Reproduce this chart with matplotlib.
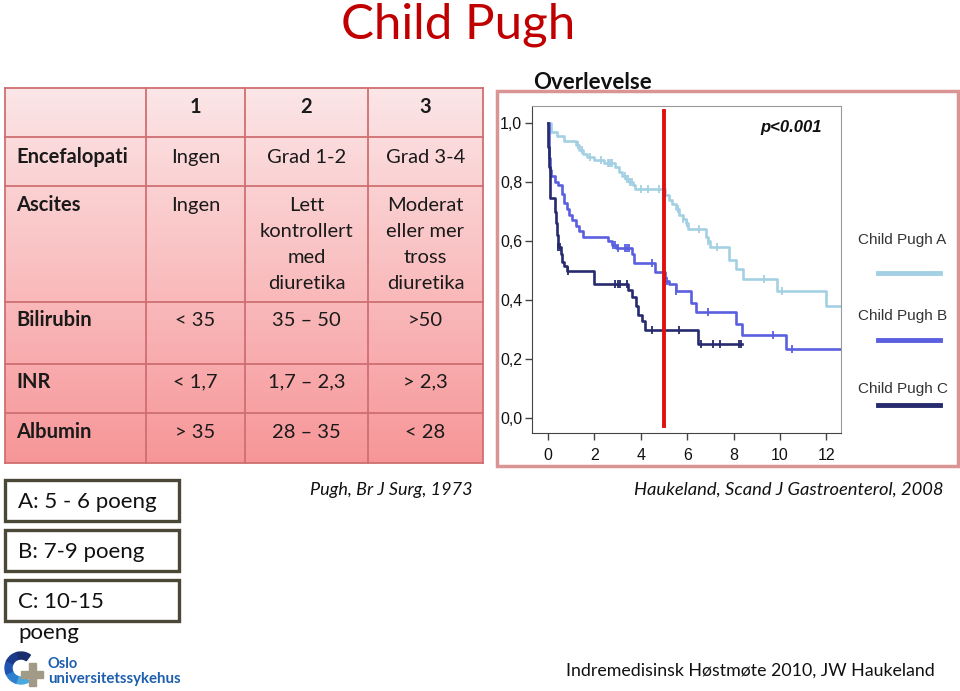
import numpy as np
import matplotlib
matplotlib.use("Agg")
import matplotlib.pyplot as plt
from matplotlib.patches import Rectangle, Wedge
from matplotlib.lines import Line2D

# ---- table data ----
COL_HEADS = ["1", "2", "3"]
ROW_LABELS = ["Encefalopati", "Ascites", "Bilirubin", "INR", "Albumin"]
CELLS = [
    ["Ingen", "Grad 1-2", "Grad 3-4"],
    ["Ingen", "Lett\nkontrollert\nmed\ndiuretika", "Moderat\neller mer\ntross\ndiuretika"],
    ["< 35", "35 \u2013 50", ">50"],
    ["< 1,7", "1,7 \u2013 2,3", "> 2,3"],
    ["> 35", "28 \u2013 35", "< 28"],
]
CLASSES = ["A: 5 - 6 poeng", "B: 7-9 poeng", "C: 10-15\npoeng"]

# ---- Kaplan-Meier curves (years, survival) ----
A_t = [0, 0.15, 0.4, 0.7, 1.2, 1.35, 1.5, 1.7, 2.0, 2.4, 2.9, 3.05, 3.2, 3.35, 3.5, 3.65, 3.75,
       5.05, 5.2, 5.35, 5.5, 5.65, 5.8, 5.95, 6.05, 6.8, 6.9, 6.97, 7.8, 8.1, 8.4, 9.85, 12.0, 12.63]
A_s = [1.0, 0.97, 0.955, 0.94, 0.925, 0.91, 0.895, 0.885, 0.875, 0.865, 0.85, 0.835, 0.82, 0.81, 0.80, 0.79, 0.775,
       0.755, 0.74, 0.725, 0.71, 0.69, 0.675, 0.66, 0.64, 0.615, 0.60, 0.58, 0.535, 0.505, 0.47, 0.43, 0.38, 0.38]
A_cens = [1.3, 1.45, 1.8, 2.3, 2.6, 2.65, 2.7, 2.75, 3.3, 3.4, 3.45, 3.55, 3.6, 4.0, 4.3, 4.8,
          5.6, 5.8, 6.0, 6.5, 6.9, 7.3, 9.3, 10.1]

B_t = [0, 0.03, 0.08, 0.15, 0.3, 0.45, 0.6, 0.7, 0.8, 0.9, 1.05, 1.2, 1.35, 1.5, 2.6, 2.75, 2.95,
       3.6, 3.7, 4.6, 5.05, 5.2, 5.5, 6.15, 6.4, 8.1, 8.35, 10.25, 12.63]
B_s = [1.0, 0.88, 0.84, 0.82, 0.80, 0.79, 0.76, 0.73, 0.71, 0.69, 0.67, 0.65, 0.635, 0.615, 0.60, 0.585, 0.575,
       0.555, 0.525, 0.495, 0.465, 0.455, 0.43, 0.39, 0.36, 0.32, 0.28, 0.235, 0.235]
B_cens = [2.8, 2.9, 3.0, 3.3, 3.4, 3.5, 4.5, 5.15, 5.5, 6.9, 9.7, 10.5]

C_t = [0, 0.02, 0.06, 0.1, 0.28, 0.35, 0.4, 0.45, 0.55, 0.6, 0.7, 0.8, 1.97,
       3.45, 3.6, 3.8, 3.9, 4.05, 4.2, 6.45, 8.35]
C_s = [1.0, 0.92, 0.85, 0.745, 0.70, 0.66, 0.62, 0.58, 0.555, 0.53, 0.515, 0.50, 0.455,
       0.435, 0.41, 0.38, 0.35, 0.33, 0.30, 0.25, 0.25]
C_cens = [0.45, 0.5, 0.85, 2.9, 3.0, 3.1, 3.4, 4.5, 5.0, 5.65, 6.6, 7.1, 7.4, 8.25, 8.3]

GROUPS = ["Child Pugh A", "Child Pugh B", "Child Pugh C"]
COLORS = ["#a3d0e2", "#5a5fe0", "#262a6e"]
CUT_YEAR = 5

FONT = "Lato"
SPSS_FONT = "Liberation Sans"
W, H = 960, 691


def surv_at(t, s, x):
    i = np.searchsorted(t, x, side="right") - 1
    return np.asarray(s)[i]


fig = plt.figure(figsize=(W / 100, H / 100), dpi=100)
fig.patch.set_facecolor("white")
cv = fig.add_axes([0, 0, 1, 1])
cv.set_xlim(0, W); cv.set_ylim(H, 0); cv.axis("off")

# title
cv.text(458, 25, "Child Pugh", color="#c00000", fontsize=35.5, family=FONT,
        ha="center", va="center")

# table with pink gradient
xs = [5, 146, 245, 368, 483]
ys = [88, 137, 186, 302, 364, 413, 463]
top, bot = np.array([252, 230, 231]) / 255, np.array([247, 150, 152]) / 255
grad = np.linspace(0, 1, 200)[:, None, None] * (bot - top) + top
cv.imshow(grad, extent=[xs[0], xs[-1], ys[-1], ys[0]], aspect="auto", zorder=1)
for x in xs:
    cv.plot([x, x], [ys[0], ys[-1]], color="#cf6f72", lw=1.3, zorder=2)
for y in ys:
    cv.plot([xs[0], xs[-1]], [y, y], color="#cf6f72", lw=1.3, zorder=2)
cv.set_xlim(0, W); cv.set_ylim(H, 0)

txt = dict(family=FONT, fontsize=14.5, color="#1a1a1a", zorder=3)
for j, h in enumerate(COL_HEADS):
    cv.text((xs[j + 1] + xs[j + 2]) / 2, 107, h, ha="center", va="center", weight="bold", **txt)
row_y = [157, 205, 320, 382, 432]
line_gap = 26
for i, lab in enumerate(ROW_LABELS):
    cv.text(16, row_y[i], lab, ha="left", va="center", weight="bold", **txt)
    for j, c in enumerate(CELLS[i]):
        for k, part in enumerate(c.split("\n")):
            cv.text((xs[j + 1] + xs[j + 2]) / 2, row_y[i] + k * line_gap, part,
                    ha="center", va="center", **txt)

# class boxes
box_y = [480, 530, 580]
for k, c in enumerate(CLASSES):
    cv.add_patch(Rectangle((5, box_y[k]), 174, 41, fill=False, ec="#4b4736", lw=2.4, zorder=3))
    for m, part in enumerate(c.split("\n")):
        cv.text(18, box_y[k] + 22 + m * 31, part, family=FONT, fontsize=16, color="#111111",
                ha="left", va="center", zorder=3)

cv.text(310, 490, "Pugh, Br J Surg, 1973", family=FONT, style="italic", fontsize=13,
        color="#111111", ha="left", va="center")
cv.text(943, 490, "Haukeland, Scand J Gastroenterol, 2008", family=FONT, style="italic",
        fontsize=13.2, color="#111111", ha="right", va="center")
cv.text(935, 671, "Indremedisinsk H\u00f8stm\u00f8te 2010, JW Haukeland", family=FONT,
        fontsize=12.8, color="#111111", ha="right", va="center")

# logo
arc_cols = ["#4aa8e0", "#2f7fd0", "#1f55b0", "#1c3a8a", "#1b2d6e"]
for k, col in enumerate(arc_cols):
    a0 = 60 + k * 49
    cv.add_patch(Wedge((21, 668), 16, a0, a0 + 50, width=7, color=col, zorder=3))
cv.add_patch(Rectangle((28.5, 663), 7, 23, color="#a09a86", zorder=4))
cv.add_patch(Rectangle((21, 671), 22, 7, color="#a09a86", zorder=4))
cv.text(48, 664, "Oslo", family=FONT, weight="bold", fontsize=10.5, color="#1d5fae", va="center")
cv.text(48, 679, "universitetssykehus", family=FONT, weight="bold", fontsize=10.8,
        color="#1d5fae", va="center")

# survival panel frame and heading
cv.add_patch(Rectangle((497, 91), 461, 375, fill=False, ec="#d99494", lw=2.5, zorder=3))
cv.text(593, 82, "Overlevelse", family=FONT, weight="bold", fontsize=16, color="#111111",
        ha="center", va="center")

# legend (outside the plot, drawn on the canvas)
leg_y = [240, 316, 389]
line_y = [273, 340, 405]
for k, g in enumerate(GROUPS):
    cv.text(858, leg_y[k], g, family=SPSS_FONT, fontsize=11, color="#333333",
            ha="left", va="center")
    cv.add_line(Line2D([878, 940], [line_y[k]] * 2, color=COLORS[k], lw=3.5, zorder=3))

# KM axes
L, R, T, B = 532, 841, 106, 433
ax = fig.add_axes([L / W, (H - B) / H, (R - L) / W, (B - T) / H])
ax.set_facecolor("white")
ax.set_xlim(-0.69, 12.63)
ax.set_ylim(-0.051, 1.058)
for (t, s, cens), col in zip([(A_t, A_s, A_cens), (B_t, B_s, B_cens), (C_t, C_s, C_cens)], COLORS):
    ax.step(t, s, where="post", color=col, lw=1.9)
    ax.plot(cens, surv_at(t, s, cens), ls="none", marker="|", ms=6, mew=1.3, color=col)
ax.axvline(CUT_YEAR, ymin=0.02, ymax=0.985, color="#e01010", lw=2.8)
ax.text(11.8, 0.985, "p<0.001", family=SPSS_FONT, weight="bold", style="italic",
        fontsize=12, ha="right", va="center", color="#111111")

ax.set_xticks(range(0, 13, 2))
ax.set_yticks(np.arange(0, 1.01, 0.2))
ax.set_yticklabels([f"{v:.1f}".replace(".", ",") for v in np.arange(0, 1.01, 0.2)])
ax.tick_params(direction="out", length=5, width=1, color="#444444", labelsize=11.5,
               labelcolor="#111111")
ax.tick_params(axis="x", pad=6)
ax.tick_params(axis="y", pad=2)
for lab in ax.get_xticklabels() + ax.get_yticklabels():
    lab.set_family(SPSS_FONT)
for side in ["left", "bottom"]:
    ax.spines[side].set_color("#444444")
for side in ["top", "right"]:
    ax.spines[side].set_color("#9a9a9a")

fig.savefig("out.png", dpi=100)
